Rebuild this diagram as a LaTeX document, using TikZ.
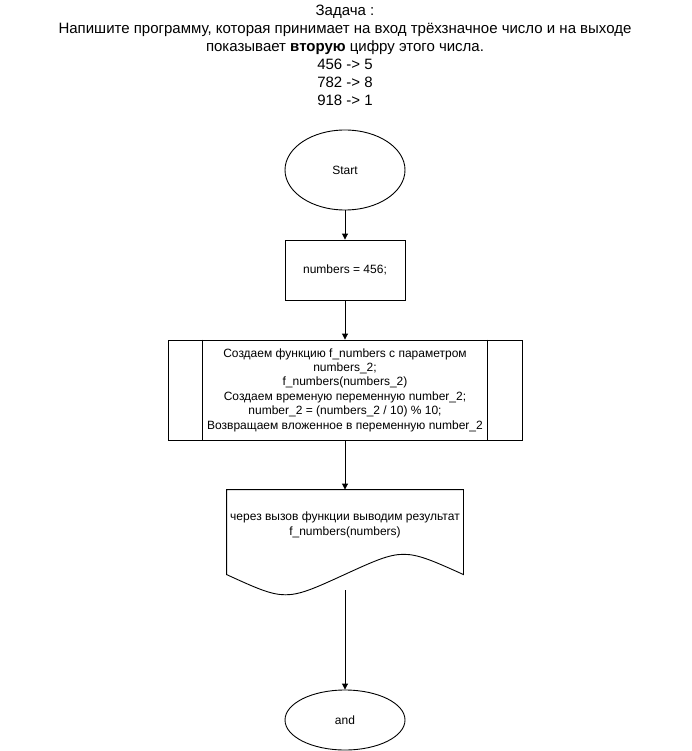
\documentclass[tikz,border=0pt]{standalone}
\usepackage{fontspec}
\setmainfont{Liberation Sans}
\usetikzlibrary{shapes.geometric,calc,arrows.meta}
\begin{document}
\begin{tikzpicture}[x=1pt,y=-1pt,
  base/.style={line width=0.9pt, inner sep=1pt, font=\fontsize{12}{14.4}\selectfont, align=center},
  term/.style={base, draw, ellipse, minimum width=120pt, minimum height=80pt},
  proc/.style={base, draw, rectangle, minimum width=120pt, minimum height=60pt},
  arr/.style={-{Triangle[length=6pt,width=6pt]}, line width=0.9pt}
]
\useasboundingbox (0,0) rectangle (691,751);
\node[font=\fontsize{15}{18}\selectfont, align=center, inner sep=0pt] (title) at (345,55.5)
  {Задача :\\Напишите программу, которая принимает на вход трёхзначное число и на выходе\\
   показывает \textbf{вторую} цифру этого числа.\\456 -> 5\\782 -> 8\\918 -> 1};

\node[term] (start) at (345,170) {Start};
\node[proc] (num) at (345,270) {numbers = 456;};
\node[base, draw, rectangle, minimum width=354pt, minimum height=100pt] (func) at (345,390)
  {Создаем функцию f\_numbers с параметром\\numbers\_2;\\f\_numbers(numbers\_2)\\
   Создаем временую переменную number\_2;\\number\_2 = (numbers\_2 / 10) \% 10;\\
   Возвращаем вложенное в переменную number\_2};
\draw[line width=0.9pt] ($(func.north west)+(35,0)$) -- ($(func.south west)+(35,0)$);
\draw[line width=0.9pt] ($(func.north east)+(-35,0)$) -- ($(func.south east)+(-35,0)$);

\node[base, rectangle, minimum width=236pt, minimum height=100pt] (doc) at (345,540) {};
\draw[line width=0.9pt] (doc.north west) -- (doc.north east) -- ($(doc.north east)+(0,85)$)
  .. controls ($(doc.north west)+(177,58)$) .. ($(doc.north west)+(118,85)$)
  .. controls ($(doc.north west)+(59,112)$) .. ($(doc.north west)+(0,85)$) -- cycle;
\node[base] (doctext) at (345,525) {через вызов функции выводим результат\\f\_numbers(numbers)};

\node[term, minimum height=60pt] (endn) at (345,720) {and};

\draw[arr] (start) -- (num);
\draw[arr] (num) -- (func);
\draw[arr] (func) -- (doc);
\draw[arr] (doc.south) -- (endn);
\end{tikzpicture}
\end{document}
